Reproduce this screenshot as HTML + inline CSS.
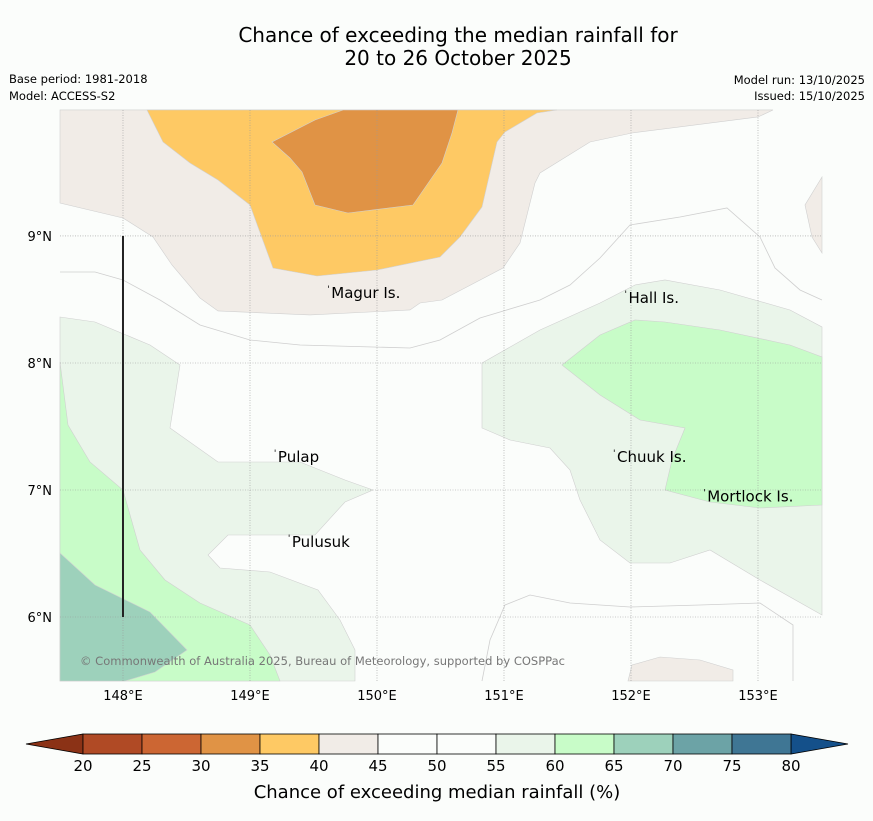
<!DOCTYPE html>
<html><head><meta charset="utf-8"><style>
body{margin:0;background:#fbfdfb;}
svg text{font-family:"DejaVu Sans","Liberation Sans",sans-serif;}
</style></head><body>
<svg id="c" width="873" height="816" xmlns="http://www.w3.org/2000/svg">
<rect width="873" height="816" fill="#fbfdfb"/>
<text x="458" y="42" text-anchor="middle" font-size="20">Chance of exceeding the median rainfall for</text>
<text x="458" y="65" text-anchor="middle" font-size="20">20 to 26 October 2025</text>
<text x="9" y="83" font-size="11.5">Base period: 1981-2018</text>
<text x="9" y="100" font-size="11.5">Model: ACCESS-S2</text>
<text x="865" y="84" font-size="11.5" text-anchor="end">Model run: 13/10/2025</text>
<text x="865" y="100" font-size="11.5" text-anchor="end">Issued: 15/10/2025</text>
<g id="map"></g>
<g id="cb"></g>
</svg>
<script>
const lonTicks=[148,149,150,151,152,153];
const latTicks=[9,8,7,6];
const binEdges=[20,25,30,35,40,45,50,55,60,65,70,75,80];
const binColors=["#b04a25","#cc6633","#e09345","#fec964","#f1ece7","#fbfdfb","#fbfdfb","#eaf5ea","#c8fcc8","#9dd1bb","#6ca3a6","#3f7694"];
const underColor="#8b3216", overColor="#14508a";
const lonMin=147.504, lonMax=153.504, latMin=5.496, latMax=9.992;
const X0=60,X1=822,Y0=110,Y1=681;
function sx(lon){return X0+(lon-lonMin)/(lonMax-lonMin)*(X1-X0);}
function sy(lat){return Y0+(latMax-lat)/(latMax-latMin)*(Y1-Y0);}
function P(x,y){return [148+(x-123)/127, 9-(y-236)/127];}
function poly(pts){return pts.map(p=>P(p[0],p[1]));}
const regions=[
 {c:"#f1ece7",n:"region-40-45",pts:poly([[60,110],[60,203],[123,218],[153,237],[172,265],[200,298],[218,311],[310,315],[410,310],[420,303],[442,300],[503,268],[520,243],[535,183],[540,173],[590,142],[632,133],[758,117],[773,110]])},
 {c:"#f1ece7",n:"region-40-45-east",pts:poly([[822,177],[805,205],[812,237],[822,253]])},
 {c:"#f1ece7",n:"region-40-45-south",pts:poly([[628,681],[632,665],[660,657],[700,660],[733,670],[733,681]])},
 {c:"#fec964",n:"region-35-40",pts:poly([[147,110],[163,142],[190,163],[218,180],[250,205],[273,268],[317,276],[377,270],[440,257],[460,237],[482,207],[497,142],[505,132],[537,113],[557,110]])},
 {c:"#e09345",n:"region-30-35",pts:poly([[343,110],[315,120],[272,142],[290,158],[302,172],[315,205],[348,213],[413,205],[442,163],[452,133],[458,110]])},
 {c:"#eaf5ea",n:"region-55-60-west",pts:poly([[60,317],[95,322],[150,345],[180,365],[170,428],[218,462],[300,462],[345,480],[373,490],[345,502],[315,535],[228,535],[208,555],[220,568],[270,572],[318,590],[340,620],[355,650],[355,681],[60,681]])},
 {c:"#c8fcc8",n:"region-60-65-west",pts:poly([[60,362],[68,425],[90,462],[123,490],[140,550],[165,580],[200,603],[250,625],[270,655],[280,681],[60,681]])},
 {c:"#9dd1bb",n:"region-65-70-west",pts:poly([[60,553],[95,585],[150,612],[187,650],[155,672],[125,681],[60,681]])},
 {c:"#eaf5ea",n:"region-55-60-east",pts:poly([[482,363],[540,330],[600,303],[635,285],[665,280],[720,290],[790,310],[822,327],[822,615],[760,580],[710,550],[670,563],[630,563],[600,540],[580,500],[570,470],[550,448],[510,440],[482,428]])},
 {c:"#c8fcc8",n:"region-60-65-east",pts:poly([[562,365],[600,335],[635,320],[665,322],[720,330],[790,345],[822,357],[822,505],[760,508],[710,502],[665,490],[672,460],[685,428],[640,420],[600,395]])}
];
const lines=[
 poly([[60,272],[95,272],[123,280],[160,300],[200,325],[250,340],[300,345],[410,348],[440,340],[480,318],[540,300],[570,285],[600,258],[630,225],[680,217],[727,208],[760,237],[775,268],[800,290],[822,300]]),
 poly([[482,681],[490,640],[505,605],[530,595],[570,603],[630,607],[700,605],[760,603],[793,625],[793,681]])
];
const islands=[["Magur Is.",149.64,8.55],["Hall Is.",151.98,8.51],["Pulap",149.22,7.26],["Pulusuk",149.33,6.59],["Chuuk Is.",151.89,7.26],["Mortlock Is.",152.6,6.95]];
const NS="http://www.w3.org/2000/svg";
function el(t,a,p){const e=document.createElementNS(NS,t);for(const k in a)e.setAttribute(k,a[k]);p.appendChild(e);return e;}
const map=document.getElementById('map');
const bg=el('rect',{x:X0,y:Y0,width:X1-X0,height:Y1-Y0,fill:"#fbfdfb"},map);


regions.forEach(r=>{
 const p=el('polygon',{points:r.pts.map(q=>sx(q[0])+","+sy(q[1])).join(" "),fill:r.c,stroke:"#d0d0d0","stroke-width":"0.6"},map);
 
 
});
lines.forEach(l=>{
 const p=el('polyline',{points:l.map(q=>sx(q[0])+","+sy(q[1])).join(" "),fill:"none",stroke:"#cfcfcf","stroke-width":"0.8"},map);
 
 
});
lonTicks.forEach(v=>{
 const g=el('line',{x1:sx(v),x2:sx(v),y1:Y0,y2:Y1,stroke:"#999","stroke-width":"0.6","stroke-dasharray":"1,1.5"},map);
 
 
 const t=el('text',{x:sx(v),y:700,"text-anchor":"middle","font-size":"13"},map);t.textContent=v+"°E";
 
 
});
latTicks.forEach(v=>{
 const g=el('line',{x1:X0,x2:X1,y1:sy(v),y2:sy(v),stroke:"#999","stroke-width":"0.6","stroke-dasharray":"1,1.5"},map);
 
 
 const t=el('text',{x:52,y:sy(v)+5,"text-anchor":"end","font-size":"13"},map);t.textContent=v+"°N";
 
 
});
const vl=el('line',{x1:sx(148),x2:sx(148),y1:sy(9),y2:sy(6),stroke:"#222","stroke-width":"2"},map);


islands.forEach(d=>{
 const t=el('text',{x:sx(d[1]),y:sy(d[2])+5,"font-size":"15"},map);t.textContent=d[0];
 
 
 const m=el('text',{x:sx(d[1])-4,y:sy(d[2])-1,"font-size":"9"},map);m.textContent="'";
 
 
});
const cp=el('text',{x:80,y:665,"font-size":"11.5",fill:"#777","textLength":"485"},map);
cp.textContent="© Commonwealth of Australia 2025, Bureau of Meteorology, supported by COSPPac";


const cb=document.getElementById('cb');
const CX0=83,CX1=791,CY=734,CH=20;
function cx(v){return CX0+(v-binEdges[0])/(binEdges[binEdges.length-1]-binEdges[0])*(CX1-CX0);}
const lt=el('polygon',{points:`26,${CY+CH/2} ${CX0},${CY} ${CX0},${CY+CH}`,fill:underColor,stroke:"#000","stroke-width":"0.8"},cb);


const rt=el('polygon',{points:`848,${CY+CH/2} ${CX1},${CY} ${CX1},${CY+CH}`,fill:overColor,stroke:"#000","stroke-width":"0.8"},cb);


binColors.forEach((c,i)=>{
 const r=el('rect',{x:cx(binEdges[i]),y:CY,width:cx(binEdges[i+1])-cx(binEdges[i]),height:CH,fill:c,stroke:"#000","stroke-width":"0.8"},cb);
 
 
});
binEdges.forEach(v=>{
 const t=el('text',{x:cx(v),y:771,"text-anchor":"middle","font-size":"15"},cb);t.textContent=v;
 
 
});
const ct=el('text',{x:437,y:798,"text-anchor":"middle","font-size":"18"},cb);
ct.textContent="Chance of exceeding median rainfall (%)";


</script>
</body></html>
